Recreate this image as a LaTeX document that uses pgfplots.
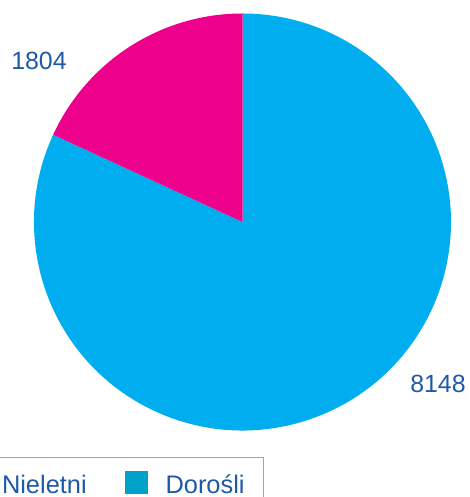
\documentclass[border=0pt]{standalone}
\usepackage{pgfplots}
\pgfplotsset{compat=1.18}
\usepackage{fontspec}
\setmainfont{Liberation Sans}
\definecolor{sliceBlue}{HTML}{00AEEF}
\definecolor{sliceMagenta}{HTML}{EC008C}
\definecolor{legendTeal}{HTML}{00A2C9}
\definecolor{labelBlue}{HTML}{1E5AA8}
\definecolor{legendFrame}{HTML}{8FA6CC}

% slice values
\def\valNieletni{1804}
\def\valDorosli{8148}

\begin{document}
\begin{tikzpicture}
\clip (0,0) rectangle (470bp,497bp);
\begin{axis}[
    at={(0,0)}, anchor=south west,
    scale only axis,
    width=470bp, height=497bp,
    xmin=0, xmax=470, ymin=0, ymax=497,
    hide axis,
    clip=false,
    legend columns=2,
    legend style={
        at={(axis cs:264,40)}, anchor=north east,
        draw=legendFrame, line width=0.8bp,
        font=\fontsize{25.5}{28}\selectfont, text=labelBlue,
        inner xsep=19bp, inner ysep=14bp,
        nodes={inner sep=0pt},
        /tikz/every odd column/.append style={column sep=18bp},
        /tikz/every even column/.append style={column sep=38bp},
    },
    legend image code/.code={
        \fill[#1] (0bp,-9bp) rectangle (22bp,13bp);
    },
]
\pgfmathsetmacro{\total}{(\valNieletni+\valDorosli)/100}
\pgfmathsetmacro{\angN}{3.6*\valNieletni/\total}
\pgfmathsetmacro{\endN}{90+\angN}

% Dorośli (large slice)
\fill[sliceBlue] (axis cs:242.5,275) -- ++(\endN:208.5bp)
    arc[start angle=\endN, end angle=450, radius=208.5bp] -- cycle;
% Nieletni
\fill[sliceMagenta] (axis cs:242.5,275) -- ++(90:208.5bp)
    arc[start angle=90, end angle=\endN, radius=208.5bp] -- cycle;

\node[text=labelBlue, font=\fontsize{25}{28}\selectfont] at (axis cs:39,436) {1804};
\node[text=labelBlue, font=\fontsize{25}{28}\selectfont] at (axis cs:438,113) {8148};

\addlegendimage{sliceMagenta}
\addlegendentry{Nieletni}
\addlegendimage{legendTeal}
\addlegendentry{Dorośli}
\end{axis}
\end{tikzpicture}
\end{document}
